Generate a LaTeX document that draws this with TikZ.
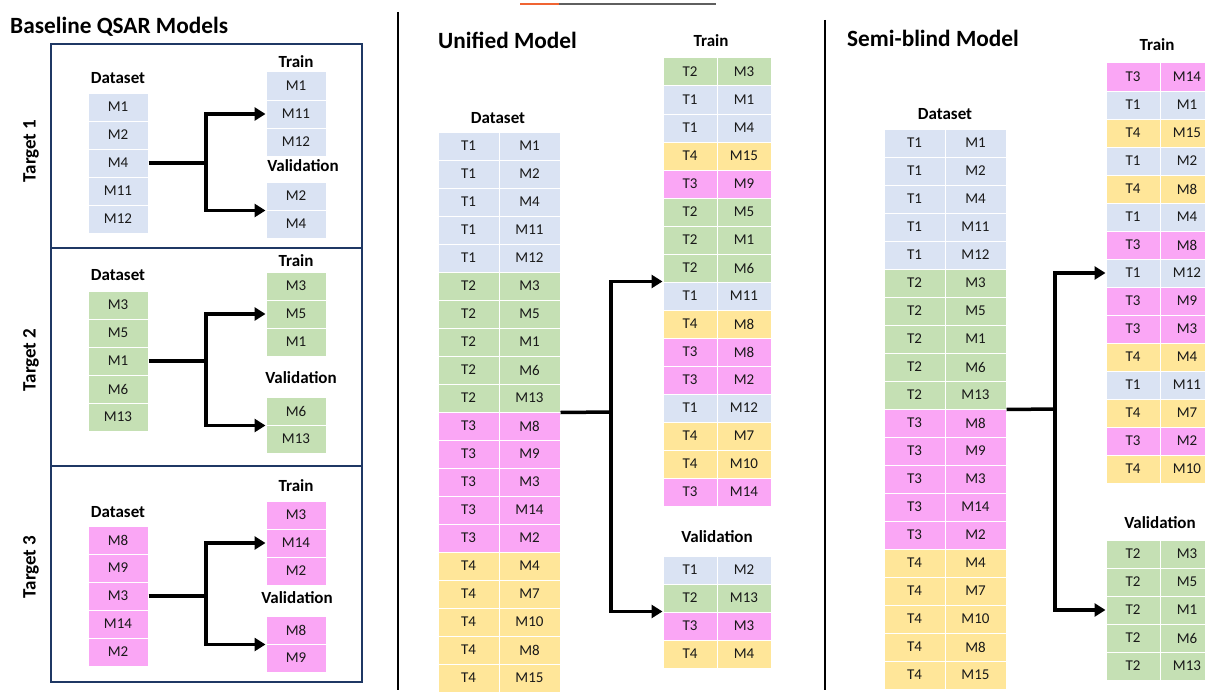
\documentclass[tikz,border=0pt]{standalone}
\usepackage{fontspec}
\setmainfont{Carlito}
\usetikzlibrary{arrows.meta}
\definecolor{cblue}{RGB}{218,227,243}
\definecolor{cgreen}{RGB}{197,224,180}
\definecolor{cpink}{RGB}{250,166,245}
\definecolor{cyellow}{RGB}{255,230,153}
\definecolor{boxblue}{RGB}{31,56,100}
\definecolor{accorange}{RGB}{240,100,50}
\definecolor{accgray}{RGB}{95,95,95}
\begin{document}
\begin{tikzpicture}[x=1pt,y=-1pt,
 cell/.style={rectangle,draw=white,line width=1pt,inner sep=0pt,minimum height=28pt,font=\fontsize{15}{15}\selectfont,text=black!90},
 c1/.style={cell,fill=cblue}, c2/.style={cell,fill=cgreen}, c3/.style={cell,fill=cpink}, c4/.style={cell,fill=cyellow},
 wl/.style={minimum width=60pt}, wu/.style={minimum width=61pt}, wr/.style={minimum width=54pt},
 ttl/.style={font=\fontsize{23.3}{23.3}\selectfont\bfseries, anchor=west, inner sep=0pt},
 hd/.style={font=\fontsize{17}{17}\selectfont\bfseries, inner sep=0pt},
 tgt/.style={font=\fontsize{19}{19}\selectfont\bfseries, rotate=90, inner sep=0pt},
 conn/.style={line width=3.5pt, line join=miter},
 arr/.style={conn, -{Triangle[length=11pt,width=13pt]}},
 boxframe/.style={draw=boxblue, line width=1.6pt},
 divider/.style={line width=1.6pt, draw=black}
]
\clip (0,0) rectangle (1205,693);
\fill[white] (0,0) rectangle (1205,693);

% top accent line
\draw[accorange, line width=1.4pt] (520,4) -- (559,4);
\draw[accgray, line width=1.4pt] (559,4) -- (716,4);

% dividers
\draw[divider] (398,12) -- (398,690);
\draw[divider] (825,20) -- (825,690);

% ===== Baseline QSAR Models =====
\node[ttl] (tbase) at (10,27) {Baseline QSAR Models};
\draw[boxframe] (51,44) rectangle (362,248);
\draw[boxframe] (51,248) rectangle (362,466);
\draw[boxframe] (51,466) rectangle (362,682);

% Target 1
\node[tgt] (tg1) at (31,151) {Target 1};
\node[hd] (a1dh) at (118,78) {Dataset};
\foreach \m [count=\i from 0] in {1,2,4,11,12} \node[c1,wl] (a1d\i) at (118,107+28*\i) {M\m};
\node[hd] (a1th) at (296,62) {Train};
\foreach \m [count=\i from 0] in {1,11,12} \node[c1,wl] (a1t\i) at (296,86+28*\i) {M\m};
\node[hd] (a1vh) at (303,166) {Validation};
\foreach \m [count=\i from 0] in {2,4} \node[c1,wl] (a1v\i) at (296,196+28*\i) {M\m};
\coordinate (a1j) at (206,163);
\draw[conn] (a1d2.east) -- (a1j);
\draw[arr] (a1j) |- (a1t1.west);
\draw[arr] (a1j) |- (a1v0.south west);

% Target 2
\node[tgt] (tg2) at (31,360) {Target 2};
\node[hd] (a2dh) at (118,275) {Dataset};
\foreach \m [count=\i from 0] in {3,5,1,6,13} \node[c2,wl] (a2d\i) at (118,305+28*\i) {M\m};
\node[hd] (a2th) at (296,261) {Train};
\foreach \m [count=\i from 0] in {3,5,1} \node[c2,wl] (a2t\i) at (296,286+28*\i) {M\m};
\node[hd] (a2vh) at (301,378) {Validation};
\foreach \m [count=\i from 0] in {6,13} \node[c2,wl] (a2v\i) at (296,411+28*\i) {M\m};
\coordinate (a2j) at (206,361);
\draw[conn] (a2d2.east) -- (a2j);
\draw[arr] (a2j) |- (a2t1.west);
\draw[arr] (a2j) |- (a2v0.south west);

% Target 3
\node[tgt] (tg3) at (31,567) {Target 3};
\node[hd] (a3dh) at (118,512) {Dataset};
\foreach \m [count=\i from 0] in {8,9,3,14,2} \node[c3,wl] (a3d\i) at (118,540+28*\i) {M\m};
\node[hd] (a3th) at (296,486) {Train};
\foreach \m [count=\i from 0] in {3,14,2} \node[c3,wl] (a3t\i) at (296,515+28*\i) {M\m};
\node[hd] (a3vh) at (297,598) {Validation};
\foreach \m [count=\i from 0] in {8,9} \node[c3,wl] (a3v\i) at (296,630+28*\i) {M\m};
\coordinate (a3j) at (206,596);
\draw[conn] (a3d2.east) -- (a3j);
\draw[arr] (a3j) |- (a3t1.west);
\draw[arr] (a3j) |- (a3v0.south west);

% ===== Unified Model =====
\node[ttl] (tuni) at (438,40) {Unified Model};
\node[hd] (udh) at (498,118) {Dataset};
\foreach \t/\m [count=\i from 0] in {1/1,1/2,1/4,1/11,1/12,2/3,2/5,2/1,2/6,2/13,3/8,3/9,3/3,3/14,3/2,4/4,4/7,4/10,4/8,4/15} {
  \node[c\t,wu] (uda\i) at (468.5,146+28*\i) {T\t};
  \node[c\t,wu] (udb\i) at (529.5,146+28*\i) {M\m};
}
\node[hd] (uth) at (711,41) {Train};
\foreach \t/\m [count=\i from 0] in {2/3,1/1,1/4,4/15,3/9,2/5,2/1,2/6,1/11,4/8,3/8,3/2,1/12,4/7,4/10,3/14} {
  \node[c\t,wr] (uta\i) at (690,72+28*\i) {T\t};
  \node[c\t,wr] (utb\i) at (744,72+28*\i) {M\m};
}
\node[hd] (uvh) at (717,537) {Validation};
\foreach \t/\m [count=\i from 0] in {1/2,2/13,3/3,4/4} {
  \node[c\t,wr] (uva\i) at (690,570+28*\i) {T\t};
  \node[c\t,wr] (uvb\i) at (744,570+28*\i) {M\m};
}
\coordinate (uj) at (611,412);
\draw[conn] (udb9.south east) -- (uj);
\draw[arr] (uj) |- (uta8.north west);
\draw[arr] (uj) |- (uva2.north west);

% ===== Semi-blind Model =====
\node[ttl] (tsemi) at (847,38) {Semi-blind Model};
\node[hd] (sdh) at (945,114) {Dataset};
\foreach \t/\m [count=\i from 0] in {1/1,1/2,1/4,1/11,1/12,2/3,2/5,2/1,2/6,2/13,3/8,3/9,3/3,3/14,3/2,4/4,4/7,4/10,4/8,4/15} {
  \node[c\t,wu] (sda\i) at (914.5,143+28*\i) {T\t};
  \node[c\t,wu] (sdb\i) at (975.5,143+28*\i) {M\m};
}
\node[hd] (sth) at (1157,45) {Train};
\foreach \t/\m [count=\i from 0] in {3/14,1/1,4/15,1/2,4/8,1/4,3/8,1/12,3/9,3/3,4/4,1/11,4/7,3/2,4/10} {
  \node[c\t,wr] (sta\i) at (1133,77+28*\i) {T\t};
  \node[c\t,wr] (stb\i) at (1187,77+28*\i) {M\m};
}
\node[hd] (svh) at (1160,523) {Validation};
\foreach \t/\m [count=\i from 0] in {2/3,2/5,2/1,2/6,2/13} {
  \node[c\t,wr] (sva\i) at (1133,554+28*\i) {T\t};
  \node[c\t,wr] (svb\i) at (1187,554+28*\i) {M\m};
}
\coordinate (sj) at (1055,409);
\draw[conn] (sdb9.south east) -- (sj);
\draw[arr] (sj) |- (sta7.west);
\draw[arr] (sj) |- (sva2.west);
\end{tikzpicture}
\end{document}
